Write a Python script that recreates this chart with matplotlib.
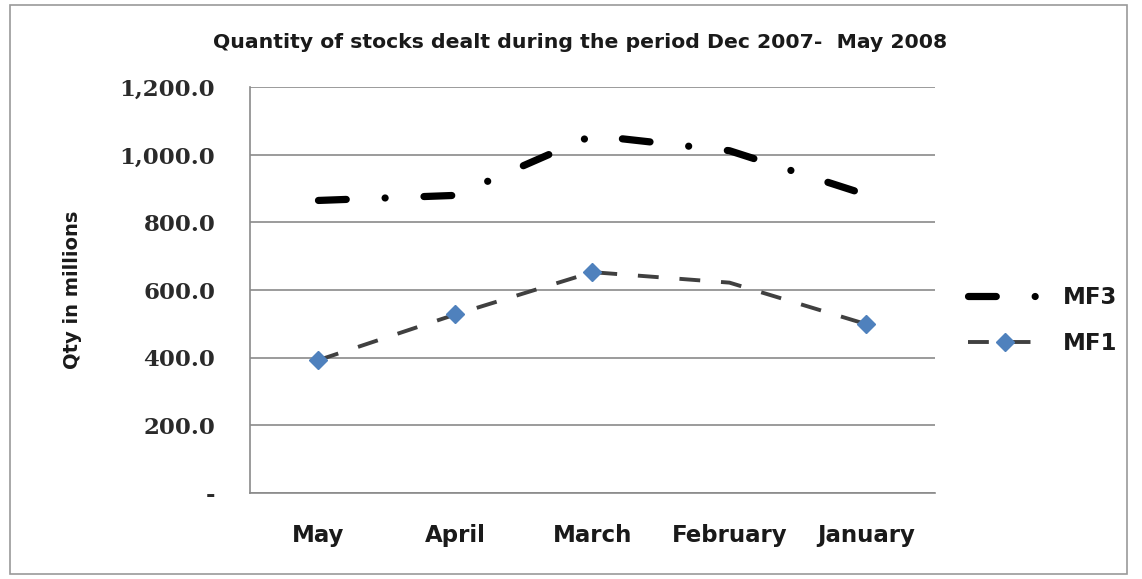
import matplotlib
matplotlib.use('Agg')

import matplotlib.pyplot as plt
import matplotlib.ticker as mticker
from matplotlib.patches import Rectangle

# data
months = ["May", "April", "March", "February", "January"]
mf3 = [865, 880, 1057, 1012, 882]
mf1 = [393, 528, 653, 622, 499]
y_ticks = [0, 200, 400, 600, 800, 1000, 1200]

plt.rcParams['lines.scale_dashes'] = False
SANS = 'DejaVu Sans'
TXT = '#1a1a1a'

fig = plt.figure(figsize=(11.42, 5.79), dpi=100)
ax = fig.add_axes([0.2189, 0.1485, 0.5998, 0.701])

x = list(range(len(months)))

# MF3: thick black dash-dot
ax.plot(x, mf3, color='black', lw=5.2, dash_capstyle='round',
        ls=(0, (20, 28, 0.01, 28)), label="MF3", zorder=3)
# MF1: dark grey dashed, blue diamonds (no marker shown on February)
ax.plot(x, mf1, color='#404040', lw=2.8, ls=(0, (15, 15)),
        marker='D', ms=9, mfc='#4F81BD', mec='#4F81BD', markevery=[0, 1, 2, 4],
        label="MF1", zorder=3)

ax.set_xlim(-0.5, len(months) - 0.5)
ax.set_ylim(0, 1200)
ax.set_yticks(y_ticks)

def fmt(v, pos):
	if v == 0:
		return "-"
	return "{:,.1f}".format(v)

ax.yaxis.set_major_formatter(mticker.FuncFormatter(fmt))
ax.set_xticks(x)
ax.set_xticklabels(months, fontfamily=SANS, fontweight='bold', fontsize=16.5, color=TXT)
for lab in ax.get_yticklabels():
	lab.set_fontfamily('DejaVu Serif')
	lab.set_fontweight('bold')
	lab.set_fontsize(16.5)
	lab.set_color('#2a2a2a')

ax.tick_params(axis='both', length=0)
ax.tick_params(axis='y', pad=25)
ax.tick_params(axis='x', pad=22)

ax.grid(axis='y', color='#8a8a8a', lw=1.2)
ax.set_axisbelow(True)
for s in ['top', 'right']:
	ax.spines[s].set_visible(False)
for s in ['left', 'bottom']:
	ax.spines[s].set_color('#8a8a8a')
	ax.spines[s].set_linewidth(1.2)

ax.set_ylabel("Qty in millions", fontfamily=SANS, fontweight='bold', fontsize=14, color=TXT)
ax.yaxis.set_label_coords(-0.245, 0.5)

fig.text(0.508, 0.927, "Quantity of stocks dealt during the period Dec 2007-  May 2008",
         ha='center', va='center', fontfamily=SANS, fontweight='bold', fontsize=14.7, color=TXT)

leg = ax.legend(loc='center left', bbox_to_anchor=(1.048, 0.426), frameon=False,
                borderaxespad=0, borderpad=0, handlelength=3.27, handletextpad=0.87,
                labelspacing=1.0,
                prop={'family': SANS, 'weight': 'bold', 'size': 16.5})
for t in leg.get_texts():
	t.set_color(TXT)

# outer chart border
fig.patches.append(Rectangle((0.009, 0.008), 0.978, 0.984, transform=fig.transFigure,
                             fill=False, ec='#9a9a9a', lw=1.2))

plt.savefig("out.png", dpi=100)
